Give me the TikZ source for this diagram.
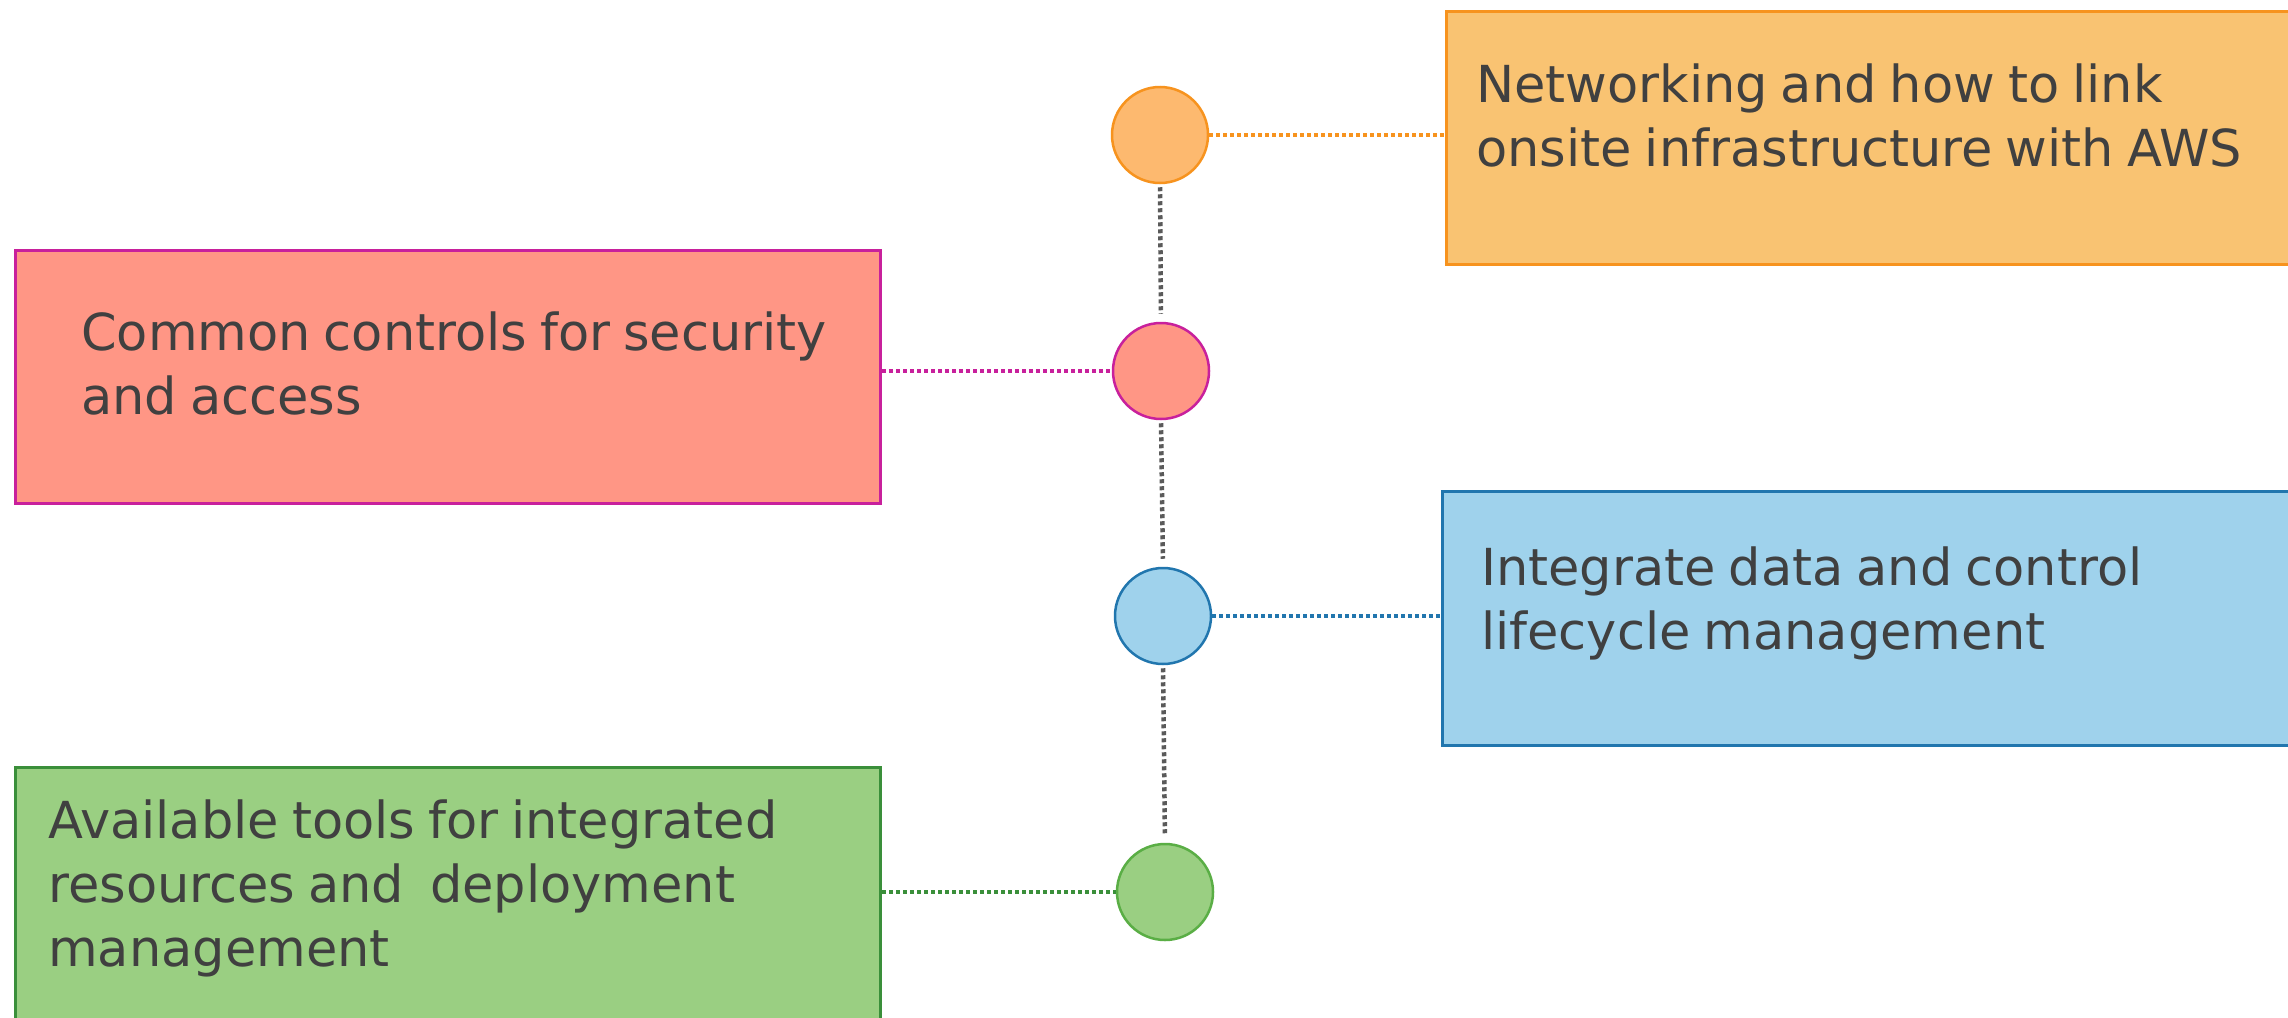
\documentclass[tikz,border=0pt]{standalone}
\usepackage{fontspec}
\setmainfont[WordSpace=0.8]{DejaVu Sans}
\begin{document}
\begin{tikzpicture}[x=1pt,y=-1pt,
  box/.style={rectangle, draw, line width=3pt, inner sep=0pt, anchor=north west},
  dot/.style={circle, draw, line width=2.5pt, minimum size=96pt, inner sep=0pt},
  txt/.style={anchor=north west, inner sep=0pt, align=left, text=textgray,
    font=\fontsize{51}{64}\selectfont},
  hlink/.style={line width=4.5pt, dash pattern=on 4pt off 3pt},
  vlink/.style={line width=4.5pt, dash pattern=on 4pt off 3pt, draw=linkgray, shorten <=3pt, shorten >=8pt}]
\definecolor{textgray}{HTML}{404040}
\definecolor{linkgray}{HTML}{5A5A5A}
\definecolor{ofill}{HTML}{F9C372}
\definecolor{ocirc}{HTML}{FDB96F}
\definecolor{oline}{HTML}{F7931E}
\definecolor{pfill}{HTML}{FF9685}
\definecolor{pline}{HTML}{C8209C}
\definecolor{bfill}{HTML}{9FD2EC}
\definecolor{bline}{HTML}{2176AE}
\definecolor{gfill}{HTML}{9ACF82}
\definecolor{gline}{HTML}{3A8F3A}
\definecolor{gcline}{HTML}{5AAE45}
\useasboundingbox[fill=white] (0,0) rectangle (2288,1017);

% boxes
\node[box, fill=ofill, draw=oline, minimum width=880pt, minimum height=253pt] (ob) at (1445,10) {};
\node[box, fill=pfill, draw=pline, minimum width=865pt, minimum height=253pt] (pb) at (14,249) {};
\node[box, fill=bfill, draw=bline, minimum width=880pt, minimum height=254pt] (bb) at (1441,490) {};
\node[box, fill=gfill, draw=gline, minimum width=865pt, minimum height=280pt] (gb) at (14,766) {};

% texts
\node[txt] (ot) at (1476,64) {Networking and how to link\\onsite infrastructure with AWS};
\node[txt] (pt) at (81,312) {Common controls for security\\and access};
\node[txt] (bt) at (1481,547) {Integrate data and control\\lifecycle management};
\node[txt] (gt) at (48,800) {Available tools for integrated\\resources and\ \ deployment\\management};

% circles
\node[dot, fill=ocirc, draw=oline] (oc) at (1160,135) {};
\node[dot, fill=pfill, draw=pline] (pc) at (1161,371) {};
\node[dot, fill=bfill, draw=bline] (bc) at (1163,616) {};
\node[dot, fill=gfill, draw=gcline] (gc) at (1165,892) {};

% links
\draw[hlink, draw=oline] (oc.east) -- (oc.east -| ob.west);
\draw[hlink, draw=pline] (pc.west -| pb.east) -- (pc.west);
\draw[hlink, draw=bline] (bc.east) -- (bc.east -| bb.west);
\draw[hlink, draw=gline] (gc.west -| gb.east) -- (gc.west);

\draw[vlink] (oc.south) -- (pc.north);
\draw[vlink] (pc.south) -- (bc.north);
\draw[vlink] (bc.south) -- (gc.north);
\end{tikzpicture}
\end{document}
